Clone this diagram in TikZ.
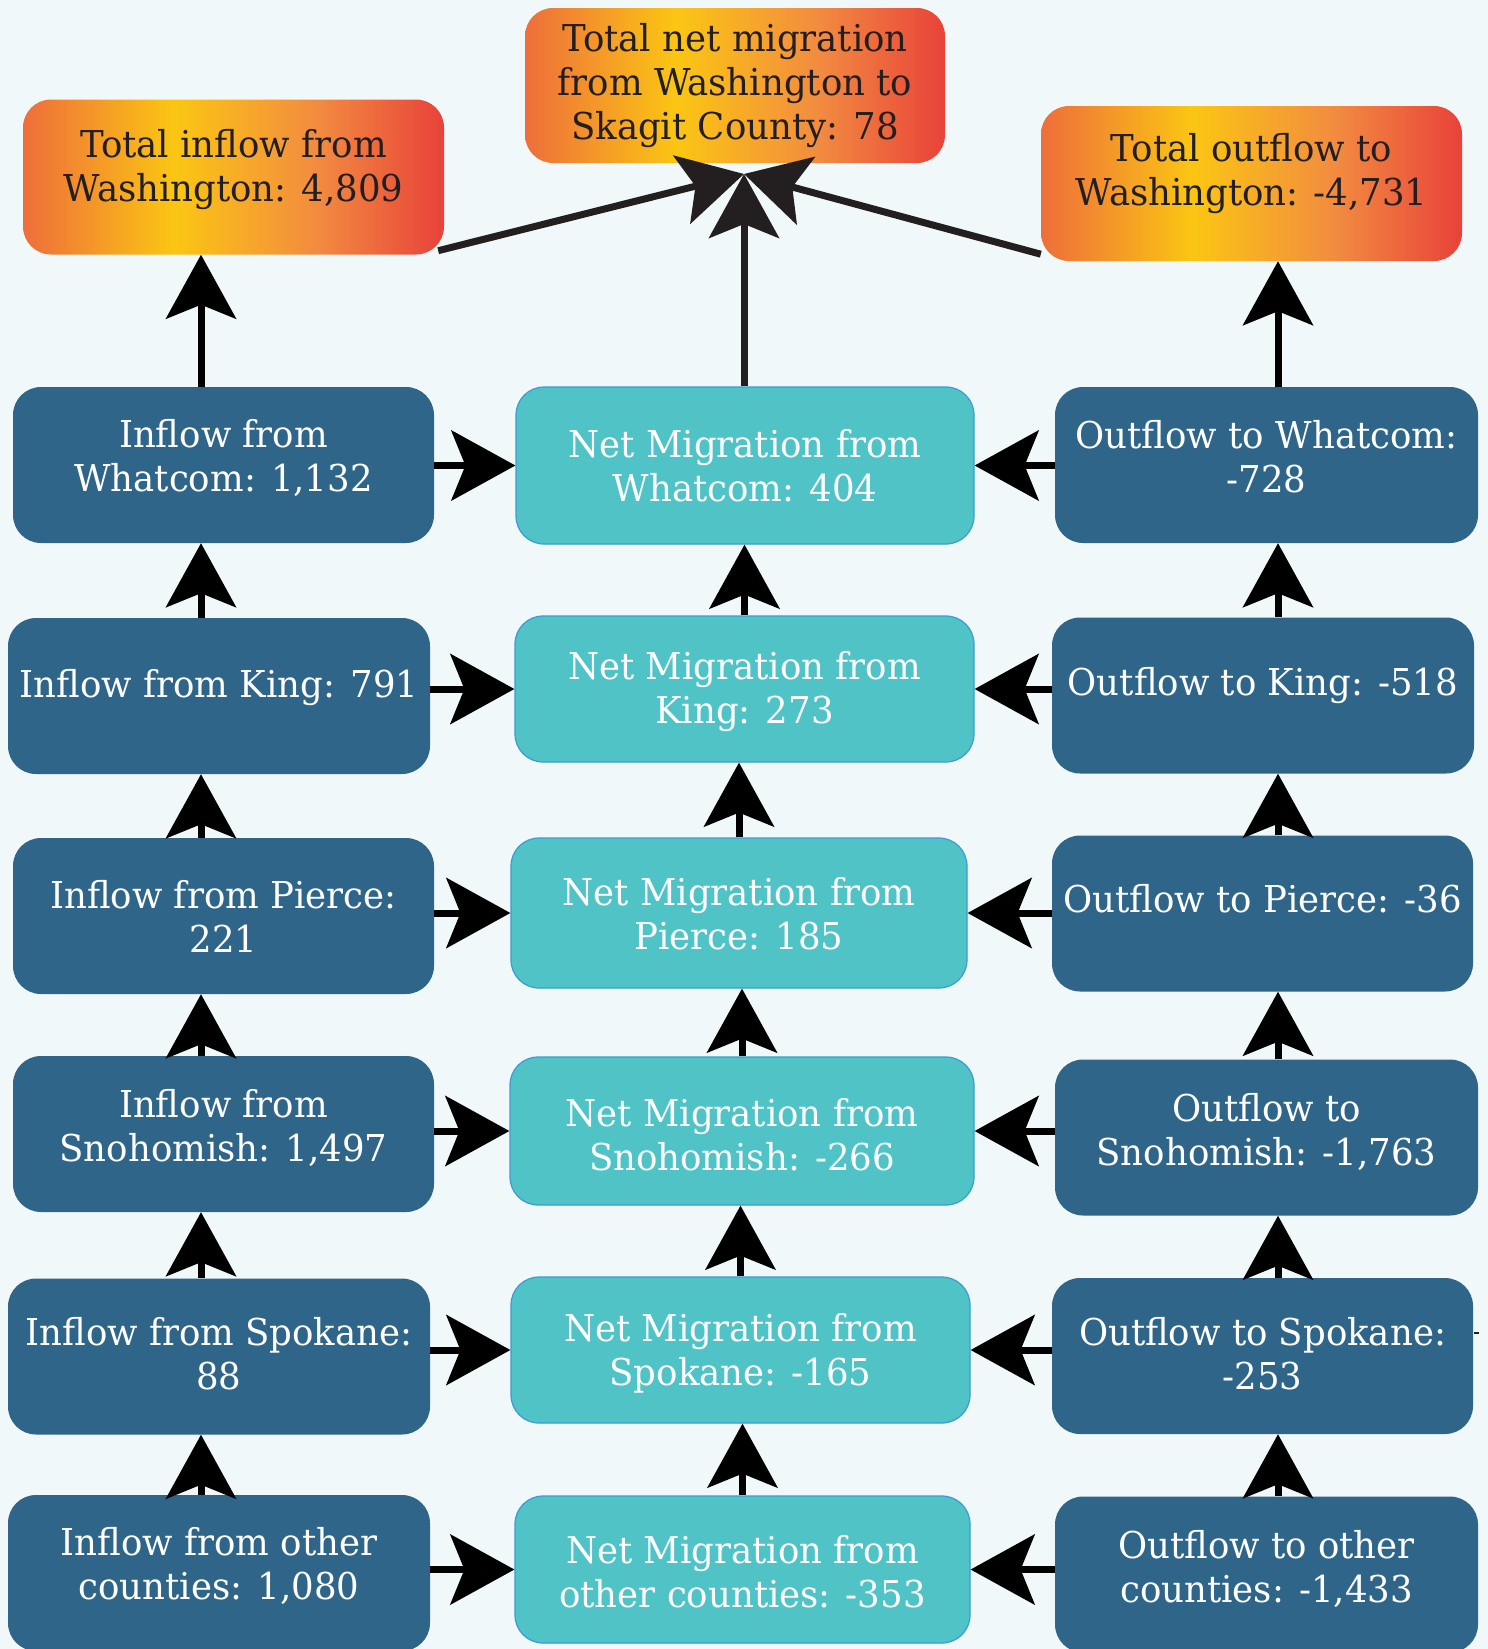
\documentclass[tikz,border=0pt]{standalone}
\usepackage{fontspec}
\setmainfont{DejaVu Serif}[FakeStretch=0.96]
\usetikzlibrary{arrows.meta,calc}
\definecolor{bgc}{HTML}{F1F8FA}
\definecolor{darkb}{HTML}{2E6588}
\definecolor{teal2}{HTML}{50C3C7}
\definecolor{tealbd}{HTML}{3C9AD4}
\definecolor{og1}{HTML}{EE6E3B}
\definecolor{ogy}{HTML}{FBC613}
\definecolor{og2}{HTML}{F28B40}
\definecolor{ogr}{HTML}{E8423A}
\definecolor{inkc}{HTML}{231F20}
\pgfdeclarehorizontalshading{orangegrad}{100bp}{color(0bp)=(og1); color(25bp)=(og1); color(43bp)=(ogy); color(60bp)=(og2); color(75bp)=(ogr); color(100bp)=(ogr)}
\begin{document}
\begin{tikzpicture}[x=1pt,y=-1pt,
  base/.style={rounded corners=28pt, inner sep=0pt},
  dbox/.style={base, fill=darkb, minimum width=421pt, minimum height=156pt},
  tbox/.style={base, fill=teal2, draw=tealbd, line width=1.2pt},
  obox/.style={base, shade, shading=orangegrad, minimum width=421pt, minimum height=155pt},
  wtxt/.style={text=white, align=center, inner sep=0pt, font=\fontsize{37}{44}\selectfont},
  btxt/.style={text=inkc, align=center, inner sep=0pt, font=\fontsize{37}{44}\selectfont},
  arr/.style={line width=7pt, draw=black, -{Stealth[length=64pt,width=70pt,inset=14pt]}},
]
\path[use as bounding box] (0,0) rectangle (1488,1649);
\fill[bgc] (0,0) rectangle (1488,1649);
\clip (0,0) rectangle (1488,1649);

% top orange boxes
\node[obox] (tl) at (233.5,177) {};
\node[obox, minimum width=420pt] (tc) at (735,85.5) {};
\node[obox] (tr) at (1251.5,183.5) {};
\node[btxt] (tlt) at ($(tl)+(0,-7)$) {Total inflow from\\Washington: 4,809};
\node[btxt] (tct) at ($(tc)+(0,0)$) {Total net migration\\from Washington to\\Skagit County: 78};
\node[btxt] (trt) at ($(tr)+(0,-10)$) {Total outflow to\\Washington: -4,731};

% left column
\node[dbox] (l1) at (223.5,465) {};
\node[dbox, minimum width=422pt] (l2) at (219,696) {};
\node[dbox] (l3) at (223.5,916) {};
\node[dbox] (l4) at (223.5,1134) {};
\node[dbox, minimum width=422pt] (l5) at (219,1356.5) {};
\node[dbox, minimum width=422pt] (l6) at (219,1573) {};
\node[wtxt] (l1t) at ($(l1)+(0,-7)$) {Inflow from\\Whatcom: 1,132};
\node[wtxt] (l2t) at ($(l2)+(0,-8)$) {Inflow from King: 791};
\node[wtxt] (l3t) at ($(l3)+(0,0)$) {Inflow from Pierce:\\221};
\node[wtxt] (l4t) at ($(l4)+(0,-6)$) {Inflow from\\Snohomish: 1,497};
\node[wtxt] (l5t) at ($(l5)+(0,-3)$) {Inflow from Spokane:\\88};
\node[wtxt] (l6t) at ($(l6)+(0,-7)$) {Inflow from other\\counties: 1,080};

% center column
\node[tbox, minimum width=458pt, minimum height=157pt] (c1) at (745,465.5) {};
\node[tbox, minimum width=459pt, minimum height=146pt] (c2) at (744.5,689) {};
\node[tbox, minimum width=456pt, minimum height=150pt] (c3) at (739,913) {};
\node[tbox, minimum width=464pt, minimum height=148pt] (c4) at (742,1131) {};
\node[tbox, minimum width=459pt, minimum height=146pt] (c5) at (740.5,1350) {};
\node[tbox, minimum width=455pt, minimum height=147pt] (c6) at (742.5,1569.5) {};
\node[wtxt] (c1t) at ($(c1)+(0,0)$) {Net Migration from\\Whatcom: 404};
\node[wtxt] (c2t) at ($(c2)+(0,3)$) {Net Migration from\\King: 273};
\node[wtxt] (c3t) at ($(c3)+(0,1)$) {Net Migration from\\Pierce: 185};
\node[wtxt] (c4t) at ($(c4)+(0,4)$) {Net Migration from\\Snohomish: -266};
\node[wtxt] (c5t) at ($(c5)+(0,3)$) {Net Migration from\\Spokane: -165};
\node[wtxt] (c6t) at ($(c6)+(0,2)$) {Net Migration from\\other counties: -353};

% right column
\node[dbox, minimum width=423pt] (r1) at (1266.5,465) {};
\node[dbox, minimum width=422pt] (r2) at (1263,695.5) {};
\node[dbox, minimum width=421pt] (r3) at (1262.5,913.5) {};
\node[dbox, minimum width=423pt] (r4) at (1266.5,1137.5) {};
\node[dbox, minimum width=421pt] (r5) at (1262.5,1356) {};
\node[dbox, minimum width=423pt] (r6) at (1266.5,1574.5) {};
\node[wtxt] (r1t) at ($(r1)+(0,-8)$) {Outflow to Whatcom:\\-728};
\node[wtxt] (r2t) at ($(r2)+(0,-10)$) {Outflow to King: -518};
\node[wtxt] (r3t) at ($(r3)+(0,-15)$) {Outflow to Pierce: -36};
\node[wtxt] (r4t) at ($(r4)+(0,-6)$) {Outflow to\\Snohomish: -1,763};
\node[wtxt] (r5t) at ($(r5)+(0,-2)$) {Outflow to Spokane:\\-253};
\node[wtxt] (r6t) at ($(r6)+(0,-6)$) {Outflow to other\\counties: -1,433};

% stray tick right of r5
\draw[inkc, line width=1.5pt] ($(r5.east)+(1,-23)$) -- ++(5,0);

% helper coordinates
\coordinate (cL) at (201,0);
\coordinate (cR) at (1278,0);
\coordinate (conv) at (744,174);

% top connectors
\draw[arr] (l1.north -| cL) -- (tl.south -| cL);
\draw[arr] (r1.north -| cR) -- (tr.south -| cR);
\draw[arr, draw=inkc] ($(tl.south east)+(-6,-4)$) -- (conv);
\draw[arr, draw=inkc] ($(tr.south west)+(0,-7)$) -- (conv);
\draw[arr, draw=inkc] (c1.north -| conv) -- (conv);

% horizontal connectors
\foreach \k in {1,...,6}{
  \draw[arr] (c\k.west -| l\k.east) -- (c\k.west);
  \draw[arr] (c\k.east -| r\k.west) -- (c\k.east);
}
% vertical connectors
\foreach \k in {2,...,6}{
  \pgfmathtruncatemacro{\m}{\k-1}
  \draw[arr] (l\k.north -| cL) -- (l\m.south -| cL);
  \draw[arr] (c\k.north) -- (c\m.south -| c\k.north);
  \draw[arr] (r\k.north -| cR) -- (r\m.south -| cR);
}
\end{tikzpicture}
\end{document}
